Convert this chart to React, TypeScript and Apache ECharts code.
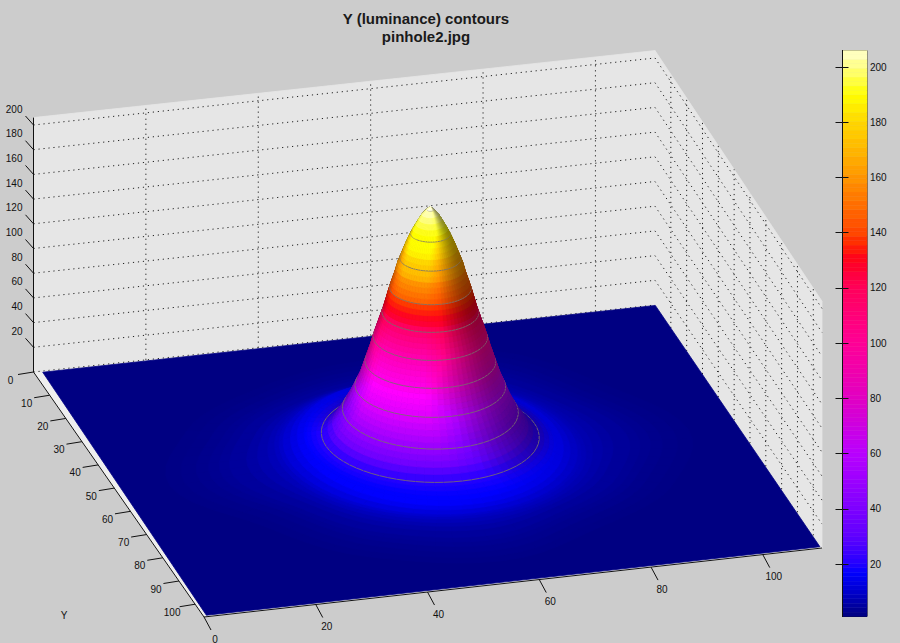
import React, { useEffect, useRef } from "react";
import * as echarts from "echarts";

// ---- values ----
const titleLines = ["Y (luminance) contours", "pinhole2.jpg"];
const xTicks = [20, 40, 60, 80, 100];
const yTicks = [0, 10, 20, 30, 40, 50, 60, 70, 80, 90, 100];
const zTicks = [20, 40, 60, 80, 100, 120, 140, 160, 180, 200];
const colorbarTicks = [20, 40, 60, 80, 100, 120, 140, 160, 180, 200];
const peakCentre = [55.7, 52.4];
// luminance level and the spot's half-width across and along the view at that level
const levelZ = [1.7, 2, 2.5, 3, 3.5, 4, 5, 6, 7, 8, 9, 10, 12, 14, 16, 17, 18, 19, 20, 24, 28, 32, 36, 40, 44, 48, 52, 56, 60, 64, 68, 72, 76, 80, 84, 88, 92, 96, 100, 104, 108, 112, 116, 120, 124, 128, 132, 136, 140, 144, 148, 152, 156, 160, 164, 168, 172, 176, 180, 184, 188, 192, 196, 200, 204, 206];
const levelRx = [43, 40.5, 38, 36, 34.5, 33, 30.5, 29, 27.5, 26.5, 25.7, 25, 23.7, 22.5, 21.3, 20.9, 20.2, 19.4, 18.6, 17.5, 16.7, 16.1, 15.5, 15, 14.5, 14, 13.6, 13.2, 12.9, 12.5, 12.1, 11.8, 11.5, 11.2, 10.9, 10.6, 10.3, 10.05, 9.8, 9.5, 9.2, 8.9, 8.6, 8.3, 8, 7.75, 7.5, 7.25, 7, 6.7, 6.4, 6.1, 5.85, 5.6, 5.25, 4.9, 4.55, 4.2, 3.8, 3.4, 2.95, 2.45, 1.95, 1.4, 0.65, 0];
const levelRy = [43, 41, 39, 37, 35.5, 34, 32, 30.8, 30, 29.2, 28.6, 28.2, 27.4, 26.7, 25.5, 24, 22.5, 21, 19.9, 18.6, 17.7, 17.1, 16.6, 16.2, 15.6, 15, 14.4, 13.8, 13.1, 12.5, 12.1, 11.8, 11.5, 11.2, 10.9, 10.6, 10.3, 10.05, 9.8, 9.5, 9.2, 8.9, 8.6, 8.3, 8, 7.75, 7.5, 7.25, 7, 6.7, 6.4, 6.1, 5.85, 5.6, 5.25, 4.9, 4.55, 4.2, 3.8, 3.4, 2.95, 2.45, 1.95, 1.4, 0.65, 0];
const contourLevels = [20, 40, 60, 80, 100, 120, 140, 164, 184, 204];
// outline of the faint halo on the floor, as a radius factor every 30 degrees
const haloLobes = [1.07, 1.0, 0.95, 1.04, 1.0, 0.95, 1.08, 1.0, 0.95, 0.97, 1.07, 1.0];
const colormapStops: [number, number[]][] = [
  [1, [0, 0, 130]], [2, [0, 0, 135]], [3, [0, 0, 144]], [6, [0, 0, 170]], [10, [0, 0, 205]], [14, [0, 0, 235]], [17, [0, 0, 255]], [20, [35, 0, 255]], [30, [95, 0, 255]],
  [40, [125, 0, 255]], [60, [185, 0, 255]],
  [80, [225, 0, 195]], [100, [255, 0, 150]], [120, [255, 0, 90]], [130, [255, 0, 30]], [136, [255, 40, 0]],
  [140, [255, 70, 0]], [160, [255, 150, 0]], [180, [255, 215, 0]], [190, [255, 255, 0]], [200, [255, 255, 130]], [206, [255, 255, 210]],
];

// ---- view of the 3-D box (MATLAB-style orthographic) ----
const XMAX = 110.6, YMAX = 105.5, ZMAX = 206, ZSCALE = 1.235;
const P00 = [33.5, 372], P10 = [655, 305], P01 = [204, 617], P11 = [822, 548];
function project(x: number, y: number, z: number) {
  const u = x / XMAX, v = y / YMAX;
  return [
    P00[0] * (1 - u) * (1 - v) + P10[0] * u * (1 - v) + P01[0] * (1 - u) * v + P11[0] * u * v,
    P00[1] * (1 - u) * (1 - v) + P10[1] * u * (1 - v) + P01[1] * (1 - u) * v + P11[1] * u * v - z * ZSCALE * (1 - 0.03 * u * v),
  ];
}
const camGround = [-0.275, 0.96], camRight = [0.96, 0.275], elev = (24.3 * Math.PI) / 180;
const V = [camGround[0] * Math.cos(elev), camGround[1] * Math.cos(elev), Math.sin(elev)];
const U = [-camGround[0] * Math.sin(elev), -camGround[1] * Math.sin(elev), Math.cos(elev)];
const rawL = [0, 1, 2].map((k) => V[k] * 0.85 + (k < 2 ? camRight[k] : 0) * -0.38 + U[k] * 0.3);
const lenL = Math.hypot(rawL[0], rawL[1], rawL[2]);
const L = rawL.map((c) => c / lenL);
const Z_ISO = 0.232, SEGMENTS = 72;

function baseColor(z: number) {
  for (let i = 1; i < colormapStops.length; i++) {
    if (z <= colormapStops[i][0]) {
      const [a, ca] = colormapStops[i - 1], [b, cb] = colormapStops[i];
      const t = Math.max(0, (z - a) / (b - a));
      return ca.map((c, k) => c + (cb[k] - c) * t);
    }
  }
  return colormapStops[colormapStops.length - 1][1];
}
function quantised(z: number) {
  if (z < 125) return baseColor(z);
  const idx = Math.min(63, Math.max(0, Math.floor(((z - 1) / (ZMAX - 1)) * 64)));
  return baseColor(1 + ((idx + 0.5) / 64) * (ZMAX - 1));
}
const rgb = (c: number[], f = 1) => `rgb(${c.map((v) => Math.min(255, Math.round(v * f))).join(",")})`;

function haloFactor(theta: number, z: number) {
  const w = Math.max(0, Math.min(1, (8 - z) / 5));
  if (!w) return 1;
  const a = ((theta / (2 * Math.PI)) * 12 + 12) % 12;
  const i = Math.floor(a), t = a - i, s = (1 - Math.cos(t * Math.PI)) / 2;
  const f = haloLobes[i] * (1 - s) + haloLobes[(i + 1) % 12] * s;
  return 1 + (f - 1) * w;
}
function ringPoint(i: number, theta: number) {
  const h = haloFactor(theta, levelZ[i]);
  return project(peakCentre[0] + levelRx[i] * h * Math.cos(theta), peakCentre[1] + levelRy[i] * h * Math.sin(theta), levelZ[i]);
}
function slopeAt(i: number) {
  const a = Math.max(0, i - 4), b = Math.min(levelZ.length - 1, i + 5);
  return ((levelZ[b] - levelZ[a]) * Z_ISO) / Math.max(0.01, levelRx[a] - levelRx[b]);
}
function shade(i: number, theta: number) {
  const s = slopeAt(i), n = Math.sqrt(1 + s * s);
  const dot = ((s * Math.cos(theta)) * L[0] + (s * Math.sin(theta)) * L[1] + L[2]) / n;
  const lit = Math.min(1.2, 0.55 + 0.9 * Math.pow(Math.max(0, dot), 2.2));
  const flat = Math.min(1, s / 1.0);
  return 1 + (lit - 1) * flat;
}

type Api = any;
const toPx = (api: Api, p: number[]) => api.coord(p);
const line = (api: Api, pts: number[][], stroke: string, lineWidth = 1, lineDash?: number[]) => ({
  type: "polyline", silent: true,
  shape: { points: pts.map((p) => toPx(api, p)) },
  style: { stroke, lineWidth, fill: null, lineDash },
});
const poly = (api: Api, pts: number[][], fill: string, stroke?: string) => ({
  type: "polygon", silent: true,
  shape: { points: pts.map((p) => toPx(api, p)) },
  style: { fill, stroke: stroke || null, lineWidth: stroke ? 0.8 : 0 },
});
const label = (api: Api, p: number[], text: string, align = "center") => {
  const q = toPx(api, p);
  return {
    type: "text", silent: true, x: q[0], y: q[1],
    style: { text, fill: "#111", font: '10px "Liberation Sans"', textAlign: align, textVerticalAlign: "middle", align, verticalAlign: "middle" },
  };
};

function layer(name: string, z: number, items: any[], draw: (it: any, api: Api) => any, grid = 0) {
  return {
    type: "custom", name, z, silent: true, clip: false, xAxisIndex: grid, yAxisIndex: grid,
    animation: false,
    data: items.map((_, i) => [i, 0]),
    renderItem: (params: any, api: Api) => draw(items[params.dataIndex], api),
  };
}

function ringGroup(i: number, front: boolean, api: Api) {
  const children: any[] = [];
  const col = quantised((levelZ[i] + levelZ[i + 1]) / 2);
  const isContour = contourLevels.includes(levelZ[i]);
  for (let s = 0; s < SEGMENTS; s++) {
    const a = (s / SEGMENTS) * 2 * Math.PI, b = ((s + 1) / SEGMENTS) * 2 * Math.PI, m = (a + b) / 2;
    const isFront = Math.cos(m) * camGround[0] + Math.sin(m) * camGround[1] > 0;
    if (isFront !== front) continue;
    const c = rgb(col, shade(i, m));
    children.push(poly(api, [ringPoint(i, a), ringPoint(i, b), ringPoint(i + 1, b), ringPoint(i + 1, a)], c, c));
    if (isContour) children.push(line(api, [ringPoint(i, a), ringPoint(i, b)], "rgba(120,110,110,0.85)", 1));
  }
  return { type: "group", children };
}

const wallLeft = () => [project(0, 0, 0), project(XMAX, 0, 0), project(XMAX, 0, ZMAX), project(0, 0, ZMAX)];
const wallRight = () => [project(XMAX, 0, 0), project(XMAX, YMAX, 0), project(XMAX, YMAX, ZMAX), project(XMAX, 0, ZMAX)];

function buildOption() {
  const ringIdx = levelZ.slice(0, -1).map((_, i) => i);
  const DOT = [1.2, 3.8], DOTC = "#222";
  const colorbarBands = Array.from({ length: 128 }, (_, i) => i);
  return {
    animation: false,
    backgroundColor: "#cccccc",
    title: {
      text: titleLines.join("\n"), left: 421, top: 4, textAlign: "center",
      textStyle: { fontFamily: "Liberation Sans", fontSize: 15, fontWeight: "bold", color: "#1a1a1a", lineHeight: 18 },
    },
    grid: [
      { left: 0, top: 0, width: 900, height: 643, show: false },
      { left: 842.5, top: 50.5, width: 24.5, height: 566, show: true, borderColor: "#111", borderWidth: 1, backgroundColor: "transparent" },
    ],
    xAxis: [
      { gridIndex: 0, type: "value", min: 0, max: 900, show: false },
      { gridIndex: 1, type: "value", min: 0, max: 1, show: false },
    ],
    yAxis: [
      { gridIndex: 0, type: "value", min: 0, max: 643, inverse: true, show: false },
      {
        gridIndex: 1, type: "value", min: 1, max: 206, position: "right", z: 10, splitLine: { show: false },
        axisLine: { show: true, lineStyle: { color: "#111" } },
        axisTick: { show: true, inside: true, length: 7, customValues: colorbarTicks, lineStyle: { color: "#111" } },
        axisLabel: { show: true, customValues: colorbarTicks, margin: 3, color: "#111", fontSize: 10, fontFamily: "Liberation Sans" },
      },
      {
        gridIndex: 1, type: "value", min: 1, max: 206, position: "left", z: 10, splitLine: { show: false },
        axisLine: { show: true, lineStyle: { color: "#111" } },
        axisTick: { show: true, inside: true, length: 6, customValues: colorbarTicks, lineStyle: { color: "#111" } },
        axisLabel: { show: false },
      },
    ],
    series: [
      layer("walls", 2, [wallLeft(), wallRight(), [project(0, 0, 0), project(XMAX, 0, 0), project(XMAX, YMAX, 0), project(0, YMAX, 0)]],
        (pts, api) => poly(api, pts, "#e6e6e6", "#e6e6e6")),
      layer("wall grid", 3, [
        ...xTicks.map((x) => [project(x, 0, 0), project(x, 0, ZMAX)]),
        ...yTicks.slice(1).map((y) => [project(XMAX, y, 0), project(XMAX, y, ZMAX)]),
        ...zTicks.map((z) => [project(0, 0, z), project(XMAX, 0, z), project(XMAX, YMAX, z)]),
        [project(0, 0, 0), project(XMAX, 0, 0)],
      ], (pts, api) => line(api, pts, DOTC, 1, DOT)),
      layer("floor strip", 5, [[project(0, 0.3, 0), project(6, 0.3, 0), project(6, YMAX, 0), project(0, YMAX, 0)], [project(0, YMAX - 2, 0), project(XMAX, YMAX - 2, 0), project(XMAX, YMAX, 0), project(0, YMAX, 0)]],
        (pts, api) => poly(api, pts, "#efefef")),
      layer("surface floor", 6, [[project(1.5, 0.5, 0), project(XMAX, 0.2, 0), project(XMAX - 0.2, YMAX - 0.6, 0), project(0.6, YMAX - 0.6, 0)]],
        (pts, api) => poly(api, pts, rgb(quantised(1)), rgb(quantised(1)))),
      layer("surface back", 7, ringIdx, (i, api) => ringGroup(i, false, api)),
      layer("surface front", 8, ringIdx, (i, api) => ringGroup(i, true, api)),
      layer("axis lines", 9, [
        [project(0, 0, 0), project(0, 0, ZMAX)],
        [project(0, 0, 0), project(0, YMAX, 0)],
        [project(0, YMAX, 0), project(XMAX, YMAX, 0)],
      ], (pts, api) => line(api, pts, "#111", 1)),
      layer("z ticks", 9, zTicks, (z, api) => {
        const p = project(0, 0, z);
        return { type: "group", children: [line(api, [p, [p[0] - 8, p[1] - 9]], "#111"), label(api, [p[0] - 11, p[1] - 16], String(z), "right")] };
      }),
      layer("y ticks", 9, yTicks, (y, api) => {
        const p = project(0, y, 0);
        return { type: "group", children: [line(api, [p, [p[0] - 15.5, p[1] + 2.5]], "#111"), label(api, [p[0] - 23, p[1] + 8], String(y))] };
      }),
      layer("x ticks", 9, [0, ...xTicks], (x, api) => {
        const p = project(x, YMAX, 0);
        return { type: "group", children: [line(api, [p, [p[0] + 7, p[1] + 13]], "#111"), label(api, [p[0] + 11, p[1] + 22], String(x))] };
      }),
      layer("y name", 9, ["Y"], (t, api) => label(api, [64, 615], t)),
      layer("colorbar", 3, colorbarBands, (i, api) => {
        const lo = 1 + (i / 128) * 205, hi = 1 + ((i + 1) / 128) * 205;
        const a = api.coord([0, hi]), b = api.coord([1, lo]);
        const c = rgb(quantised((lo + hi) / 2));
        return { type: "rect", silent: true, shape: { x: a[0], y: a[1], width: b[0] - a[0], height: b[1] - a[1] }, style: { fill: c, stroke: c, lineWidth: 0.5 } };
      }, 1),
    ],
  };
}

export default function App() {
  const ref = useRef<HTMLDivElement>(null);
  useEffect(() => {
    document.body.style.margin = "0";
    const chart = echarts.init(ref.current!, undefined, { renderer: "svg" });
    chart.setOption(buildOption() as any);
    return () => chart.dispose();
  }, []);
  return <div ref={ref} style={{ width: 900, height: 643 }} />;
}
